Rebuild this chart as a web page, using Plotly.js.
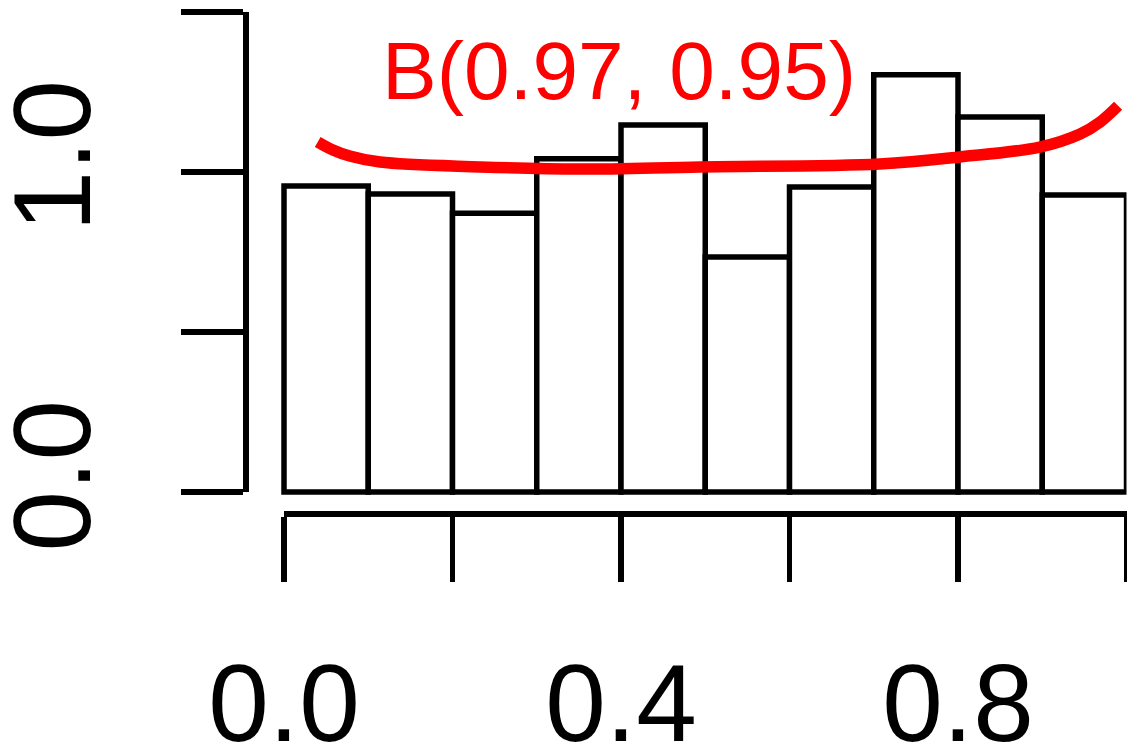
<!DOCTYPE html>
<html>
<head>
<meta charset="utf-8">
<script src="https://cdn.plot.ly/plotly-3.0.1.min.js"></script>
<style>html,body{margin:0;padding:0;background:#fff;}#chart{width:1127px;height:755px;}</style>
</head>
<body>
<div id="chart"></div>
<script>
// Histogram bins (density)
const binCenters = [0.05, 0.15, 0.25, 0.35, 0.45, 0.55, 0.65, 0.75, 0.85, 0.95];
const binDensity = [0.956, 0.931, 0.871, 1.041, 1.147, 0.734, 0.953, 1.304, 1.172, 0.928];
// Red Beta density curve points
const curveX = [0.040, 0.058, 0.078, 0.114, 0.233, 0.351, 0.494, 0.707, 0.802, 0.897, 0.945, 0.969, 0.990];
const curveY = [1.094, 1.069, 1.050, 1.031, 1.016, 1.009, 1.016, 1.025, 1.047, 1.078, 1.119, 1.157, 1.207];
const xTickVals = [0, 0.2, 0.4, 0.6, 0.8, 1.0];
const xTickText = ["0.0", "", "0.4", "", "0.8", ""];
const yTickVals = [0, 0.5, 1.0, 1.5];
const yTickText = ["0.0", "", "1.0", ""];
const labelText = "B(0.97, 0.95)";

const W = 1127, H = 755;
const FONT = "Liberation Sans, Arial, Helvetica, sans-serif";
const LW = 5.5;

const bars = {
  type: 'bar', x: binCenters, y: binDensity, width: 0.1,
  xaxis: 'x', yaxis: 'y',
  marker: {color: 'rgba(255,255,255,1)', line: {color: '#000', width: LW}},
  hoverinfo: 'skip', showlegend: false
};
const curve = {
  type: 'scatter', mode: 'lines', x: curveX, y: curveY,
  xaxis: 'x2', yaxis: 'y2', cliponaxis: false,
  line: {color: '#ff0000', width: 11.5, shape: 'spline'},
  hoverinfo: 'skip', showlegend: false
};

const layout = {
  width: W, height: H,
  margin: {l: 0, r: 0, t: 0, b: 0},
  paper_bgcolor: '#fff', plot_bgcolor: 'rgba(0,0,0,0)',
  showlegend: false,
  font: {family: FONT, color: '#000'},
  xaxis: {domain: [275.575/W, 1126.5/W], range: [-0.01, 1.0], visible: false, anchor: 'y', fixedrange: true},
  yaxis: {domain: [1 - 501.57/H, 1 - 12/H], range: [-0.03, 1.5], visible: false, anchor: 'x', fixedrange: true},
  xaxis2: {
    domain: [284/W, 1126.5/W], range: [0, 1.0], anchor: 'free', position: 1 - 513/H,
    showline: true, linecolor: '#000', linewidth: LW, showgrid: false, zeroline: false,
    ticks: 'outside', ticklen: 65, tickwidth: LW, tickcolor: '#000',
    tickmode: 'array', tickvals: xTickVals, ticktext: xTickText,
    tickfont: {family: FONT, size: 109, color: '#000'}, ticklabelstandoff: 29,
    automargin: false, fixedrange: true
  },
  yaxis2: {
    domain: [1 - 492/H, 1 - 12/H], range: [0, 1.5], anchor: 'free', position: 245/W,
    showline: true, linecolor: '#000', linewidth: LW, showgrid: false, zeroline: false,
    ticks: 'outside', ticklen: 62, tickwidth: LW, tickcolor: '#000',
    tickmode: 'array', tickvals: yTickVals, ticktext: yTickText, tickangle: -90,
    tickfont: {family: FONT, size: 109, color: '#000'}, ticklabelstandoff: 47,
    automargin: false, fixedrange: true
  },
  annotations: [{
    xref: 'x2', yref: 'y2', x: 0.398, y: 1.317, text: labelText, showarrow: false,
    xanchor: 'center', yanchor: 'middle',
    font: {family: FONT, size: 82, color: '#ff0000'}
  }]
};

Plotly.newPlot('chart', [bars, curve], layout, {displayModeBar: false, staticPlot: true});
</script>
</body>
</html>
